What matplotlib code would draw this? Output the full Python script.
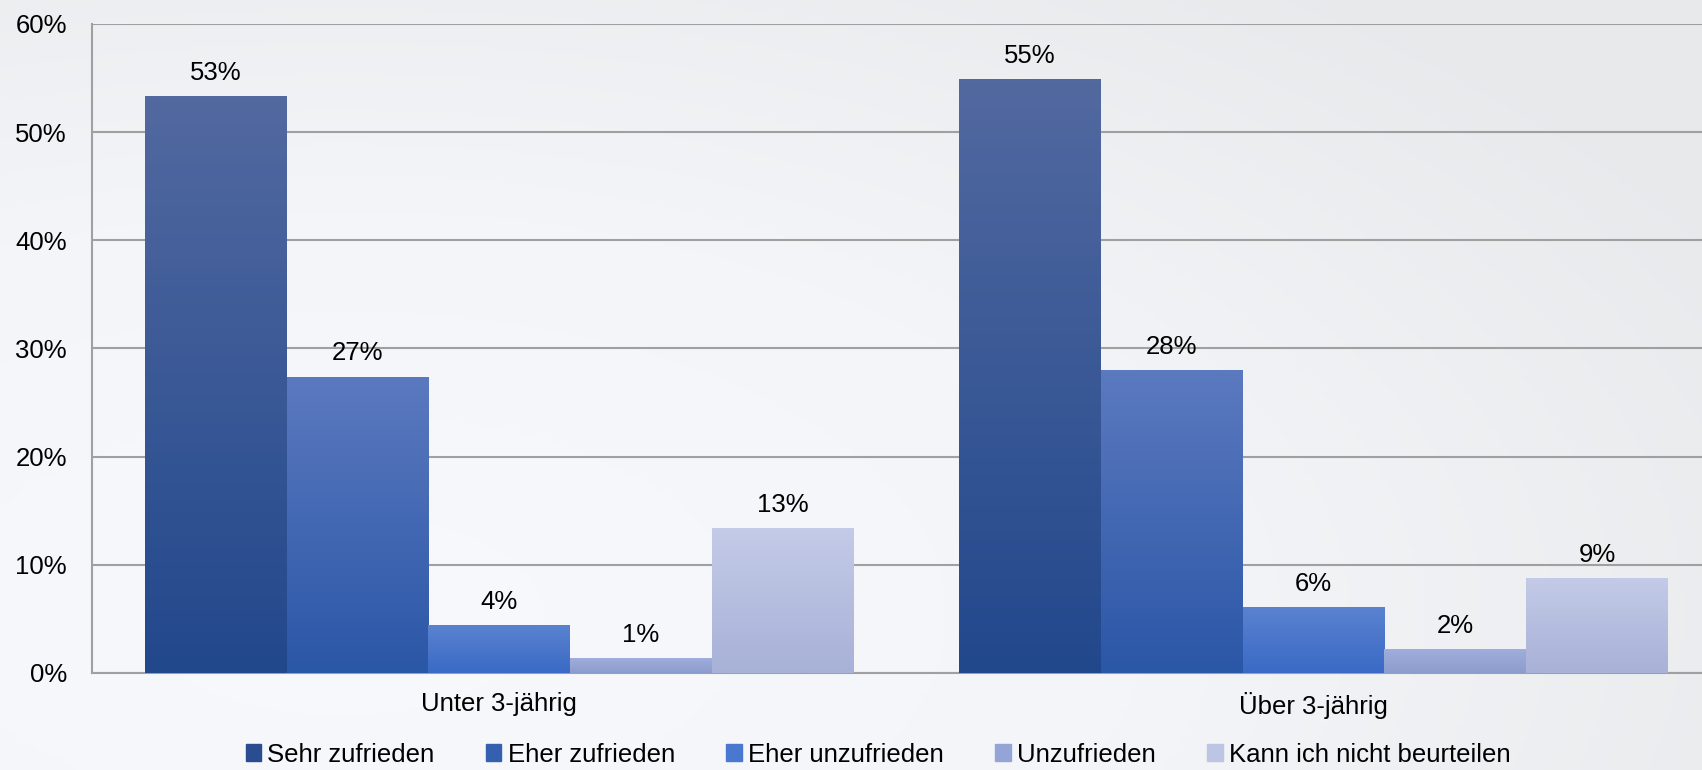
import numpy as np
import matplotlib
matplotlib.use('Agg')
import matplotlib.pyplot as plt
from matplotlib.colors import LinearSegmentedColormap

plt.rcParams['font.family'] = ['Liberation Sans', 'DejaVu Sans']

groups = ['Unter 3-jährig', 'Über 3-jährig']
series = ['Sehr zufrieden', 'Eher zufrieden', 'Eher unzufrieden', 'Unzufrieden', 'Kann ich nicht beurteilen']
sehr = [53.3, 54.9]
eher_zuf = [27.4, 28.0]
eher_unzuf = [4.4, 6.1]
unzuf = [1.4, 2.2]
kann = [13.4, 8.8]
values = [sehr, eher_zuf, eher_unzuf, unzuf, kann]

# (top, bottom) colours of each bar gradient
grad = [('#5269a0', '#22488c'),
        ('#5b79bf', '#2b57a7'),
        ('#5a82cf', '#3a6ac6'),
        ('#a0aedc', '#8c9ccc'),
        ('#c4cbe8', '#a8b1d7')]
legend_cols = ['#2a4c90', '#3560b0', '#4a78d0', '#94a4d6', '#bcc5e4']

fig = plt.figure(figsize=(17.02, 7.70), dpi=100)

# background
bg = fig.add_axes([0, 0, 1, 1], zorder=-10)
yy, xx = np.mgrid[0:1:200j, 0:1:400j]
d = np.sqrt(((xx - 0.2) * 1.0) ** 2 + ((yy - 0.2) * 0.9) ** 2)
bgmap = LinearSegmentedColormap.from_list('bg', ['#f7f9fc', '#f3f5f8', '#e8e9eb'])
bg.imshow(d, cmap=bgmap, aspect='auto', origin='lower', extent=[0, 1, 0, 1], vmin=0, vmax=0.95)
bg.axis('off')

ax = fig.add_axes([0.054, 0.126, 0.957, 0.843])
ax.set_facecolor('none')

x = np.arange(len(groups))
w = 0.174
grad_img = np.linspace(0, 1, 100).reshape(-1, 1)
for i, (name, vals) in enumerate(zip(series, values)):
    pos = x + (i - 2) * w
    bars = ax.bar(pos, vals, w, color='none', edgecolor='none', zorder=3, label=name)
    cm = LinearSegmentedColormap.from_list('g%d' % i, [grad[i][1], grad[i][0]])
    for b, v in zip(bars, vals):
        x0 = b.get_x()
        img = ax.imshow(grad_img, cmap=cm, aspect='auto', origin='lower',
                        extent=[x0, x0 + w, 0, v], zorder=3)
        img.set_clip_path(b)
        ax.annotate('%d%%' % round(v), (x0 + w / 2, v), xytext=(0, 8),
                    textcoords='offset points', ha='center', va='bottom',
                    fontsize=18.5, color='black', zorder=4)

ax.set_xlim(-0.5, 1.5)
ax.set_ylim(0, 60)
ax.set_yticks(range(0, 61, 10))
ax.set_yticklabels(['%d%%' % t for t in range(0, 61, 10)])
ax.set_xticks(x)
ax.set_xticklabels(groups)
ax.tick_params(axis='both', length=0, labelsize=18.5, colors='black')
ax.tick_params(axis='x', pad=14)
ax.tick_params(axis='y', pad=18)
ax.grid(axis='y', color='#a0a0a0', linewidth=1.5, zorder=0)
ax.set_axisbelow(True)
for s in ['top', 'right']:
    ax.spines[s].set_visible(False)
ax.spines['left'].set_color('#a0a0a0')
ax.spines['bottom'].set_color('#a0a0a0')
ax.spines['left'].set_linewidth(1.5)
ax.spines['bottom'].set_linewidth(1.5)

handles = [plt.Rectangle((0, 0), 1, 1, color=c) for c in legend_cols]
fig.legend(handles, series, loc='center', bbox_to_anchor=(0.516, 0.02), ncol=5,
           frameon=False, fontsize=18.5, handlelength=0.6, handleheight=0.6,
           handletextpad=0.25, columnspacing=2.0, borderpad=0)

fig.savefig('out.png', dpi=100)
